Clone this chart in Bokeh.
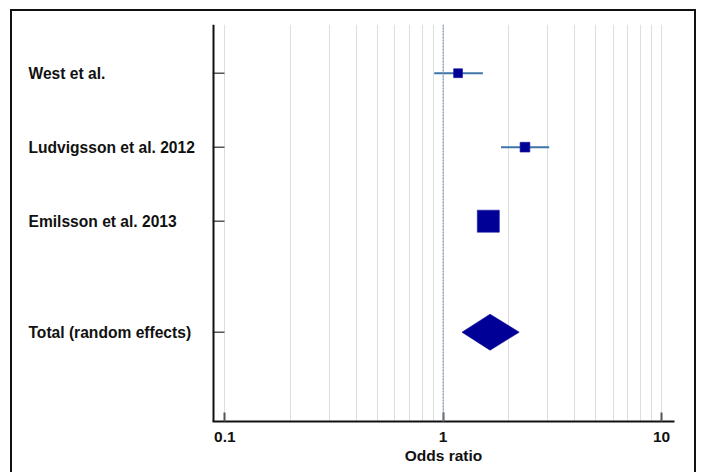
import math

from bokeh.core.properties import value
from bokeh.embed import file_html
from bokeh.layouts import row
from bokeh.models import ColumnDataSource, FixedTicker, Range1d, Span
from bokeh.plotting import figure
from bokeh.resources import INLINE

# Studies in the meta-analysis (odds ratio with 95% CI, relative weight in %)
studies = ["West et al.", "Ludvigsson et al. 2012", "Emilsson et al. 2013"]
odds_ratio = [1.17, 2.37, 1.61]
ci_low = [0.91, 1.84, 1.50]
ci_high = [1.52, 3.06, 1.73]
weights = [12.0, 14.5, 73.5]

# Pooled estimate
total_label = "Total (random effects)"
total_or = 1.64
total_low = 1.22
total_high = 2.23

# Axis ticks
major_ticks = [0.1, 1, 10]
minor_ticks = [0.2, 0.3, 0.4, 0.5, 0.6, 0.7, 0.8, 0.9, 2, 3, 4, 5, 6, 7, 8, 9]
tick_labels = {0.1: "0.1", 1: "1", 10: "10"}

FONT = "Liberation Sans"
NAVY = "#000096"
CI_BLUE = "#3f74a8"
INK = "#111111"

rows = list(range(len(studies)))
total_row = len(studies) + 0.5
row_pos = rows + [total_row]
row_names = studies + [total_label]

y_range = Range1d(4.707, -0.658)
TOP, BOTTOM, HEIGHT = 13, 51, 461

# ---- left panel: study names -------------------------------------------
names = figure(
    width=200, height=HEIGHT, x_range=Range1d(0, 200), y_range=y_range,
    x_axis_location=None, y_axis_location=None,
    output_backend="svg", toolbar_location=None,
    min_border_left=0, min_border_right=0,
    min_border_top=TOP, min_border_bottom=BOTTOM,
)
names.outline_line_color = None
names.grid.visible = False
names.text(x=[16] * len(row_pos), y=row_pos, text=row_names,
           text_font=value(FONT), text_font_style="bold",
           text_font_size="15.6px", text_color=INK,
           text_baseline="middle", text_align="left")

# ---- right panel: forest plot --------------------------------------------
p = figure(
    width=482, height=HEIGHT,
    x_axis_type="log",
    x_range=Range1d(0.0878, 11.47), y_range=y_range,
    y_axis_location=None,
    output_backend="svg", toolbar_location=None,
    min_border_left=0, min_border_right=20,
    min_border_top=TOP, min_border_bottom=BOTTOM,
)
p.outline_line_color = None

xa = p.xaxis[0]
xa.ticker = FixedTicker(ticks=major_ticks, minor_ticks=minor_ticks)
xa.major_label_overrides = tick_labels
xa.major_tick_in = 9
xa.major_tick_out = 0
xa.minor_tick_line_color = None
xa.axis_line_width = 2
xa.axis_line_color = INK
xa.major_tick_line_color = "#555555"
xa.major_tick_line_width = 2
xa.major_label_text_font = FONT
xa.major_label_text_font_style = "bold"
xa.major_label_text_font_size = "15.5px"
xa.major_label_text_color = INK
xa.major_label_standoff = 6
xa.axis_label = "Odds ratio"
xa.axis_label_text_font = FONT
xa.axis_label_text_font_style = "bold"
xa.axis_label_text_font_size = "15.5px"
xa.axis_label_text_color = INK
xa.axis_label_standoff = 2

p.ygrid.grid_line_color = None
p.xgrid.grid_line_color = "#dedede"
p.xgrid.minor_grid_line_color = "#dedede"

# vertical axis line with inward ticks at each row
p.add_layout(Span(location=p.x_range.start, dimension="height",
                  line_color=INK, line_width=4))
p.ray(x=[p.x_range.start] * len(row_pos), y=row_pos, length=12,
      length_units="screen", angle=0, line_color="#555555", line_width=1.5)

# line of no effect
p.add_layout(Span(location=1, dimension="height", line_color="#7f96b0",
                  line_width=1.2, line_dash="2 1"))

# confidence intervals
ci_src = ColumnDataSource(dict(y=rows, lo=ci_low, hi=ci_high))
p.segment(x0="lo", y0="y", x1="hi", y1="y", source=ci_src,
          line_color=CI_BLUE, line_width=2)

# study estimates, square area proportional to weight
sizes = [2.57 * math.sqrt(w) for w in weights]
pt_src = ColumnDataSource(dict(y=rows, x=odds_ratio, size=sizes))
p.scatter(x="x", y="y", size="size", marker="square", source=pt_src,
          fill_color=NAVY, line_color="#1a1aa8", line_width=0.6)

# pooled estimate diamond
half_h = 0.243
p.patch(x=[total_low, total_or, total_high, total_or],
        y=[total_row, total_row - half_h, total_row, total_row + half_h],
        fill_color=NAVY, line_color=NAVY, line_width=0.6)

layout = row(names, p, styles={
    "margin-left": "10px", "margin-top": "9px",
    "border": "2px solid #111111", "border-bottom": "none",
    "background-color": "white",
})

open("out.html", "w").write(file_html(layout, INLINE))
